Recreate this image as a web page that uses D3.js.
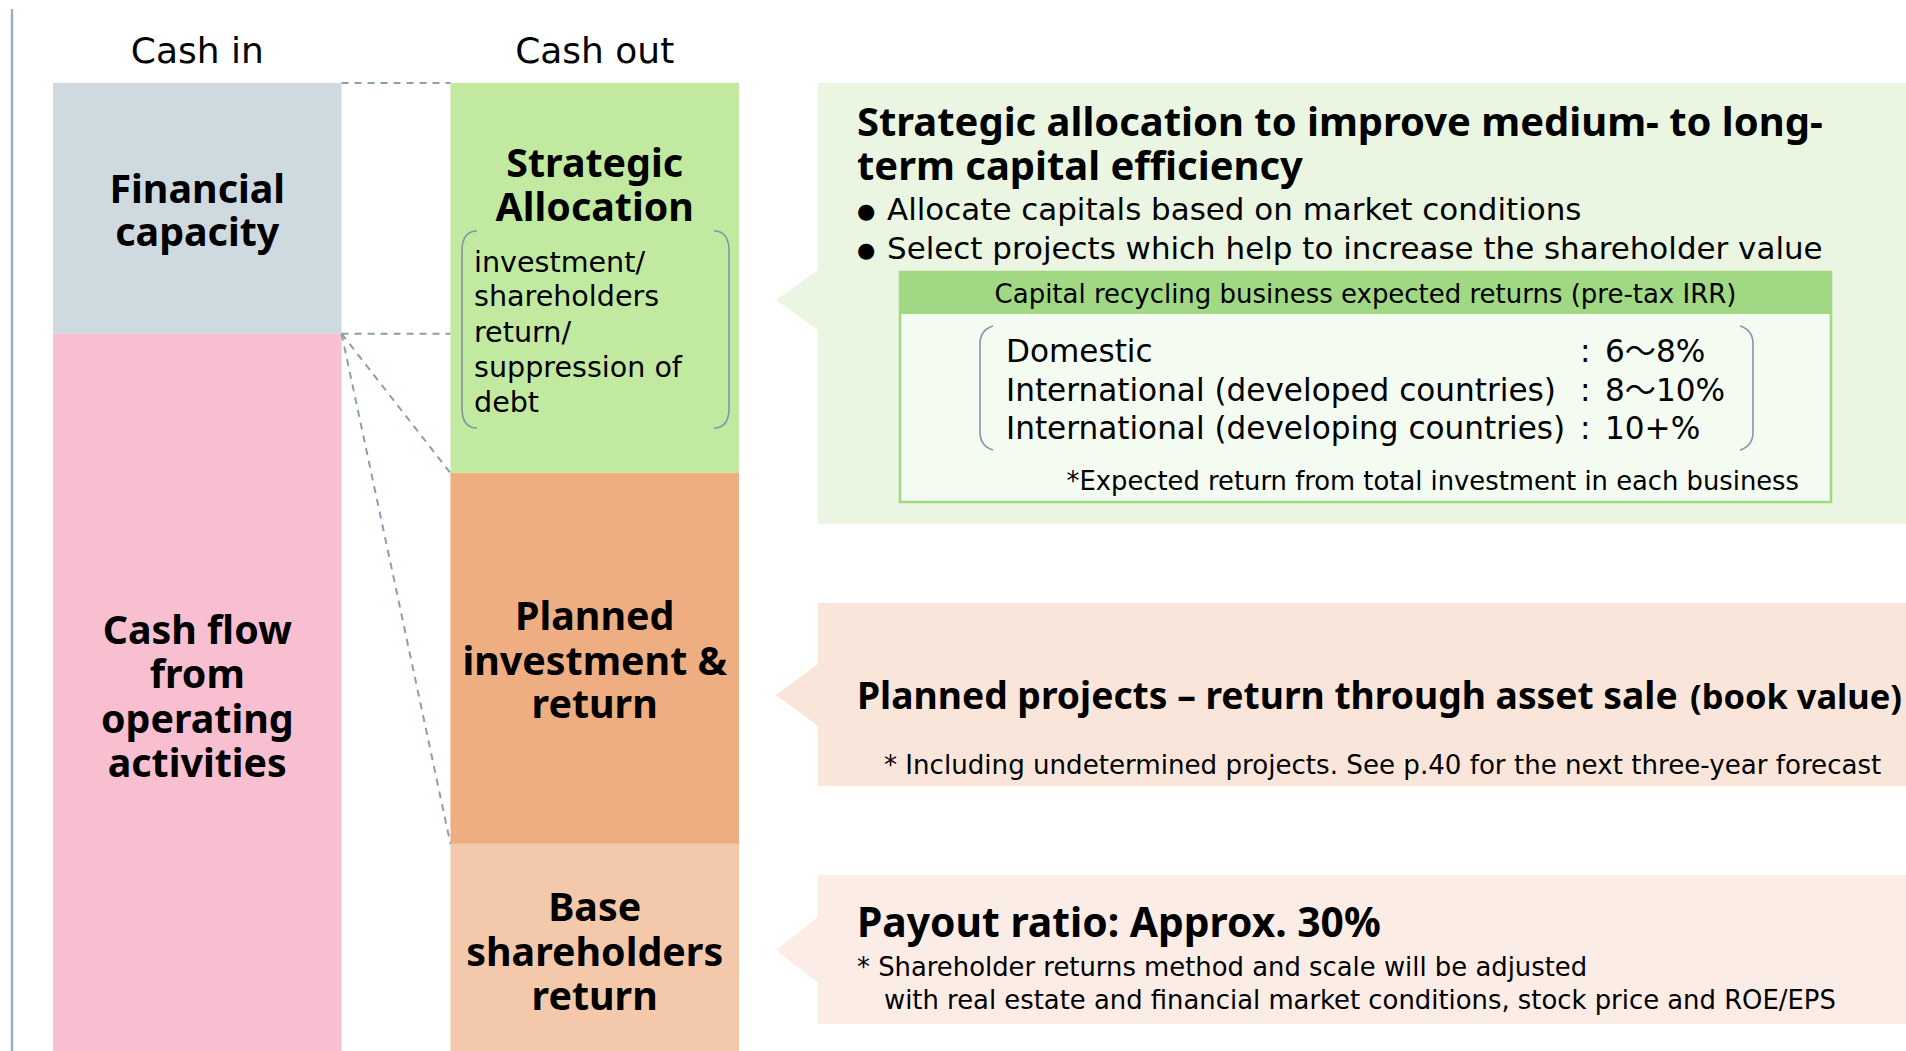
<!DOCTYPE html>
<html><head><meta charset="utf-8">
<script src="https://cdn.jsdelivr.net/npm/d3@7"></script>
<style>
body{margin:0;background:#fff;}
svg{display:block;}
text{font-family:"DejaVu Sans",Verdana,"Noto Sans CJK JP",sans-serif;fill:#000;}
text.b{font-family:"Noto Sans","DejaVu Sans",sans-serif;font-weight:bold;}
</style>
</head><body><svg id="c" width="1906" height="1051"></svg>
<script>
// ---------- data ----------
const columnHeaders = ["Cash in", "Cash out"];
const cashInCategories = ["Financial capacity", "Cash flow from operating activities"];
const cashInValues = [25.9, 74.1];
const cashInLabels = [["Financial", "capacity"], ["Cash flow", "from", "operating", "activities"]];
const cashOutCategories = ["Strategic Allocation", "Planned investment & return", "Base shareholders return"];
const cashOutValues = [40.3, 38.3, 21.4];
const cashOutLabels = [["Strategic", "Allocation"], ["Planned", "investment &", "return"], ["Base", "shareholders", "return"]];
const allocationUses = ["investment/", "shareholders", "return/", "suppression of", "debt"];
const strategicTitle = ["Strategic allocation to improve medium- to long-", "term capital efficiency"];
const strategicBullets = ["Allocate capitals based on market conditions", "Select projects which help to increase the shareholder value"];
const irrHeader = "Capital recycling business expected returns (pre-tax IRR)";
const irrRegions = ["Domestic", "International (developed countries)", "International (developing countries)"];
const irrReturns = ["6～8%", "8～10%", "10+%"];
const irrNote = "*Expected return from total investment in each business";
const plannedTitle = "Planned projects – return through asset sale";
const plannedTitleSuffix = "(book value)";
const plannedNote = "* Including undetermined projects. See p.40 for the next three-year forecast";
const payoutTitle = "Payout ratio: Approx. 30%";
const payoutNotes = ["* Shareholder returns method and scale will be adjusted", "with real estate and financial market conditions, stock price and ROE/EPS"];

// ---------- layout ----------
const svg = d3.select("#c");
const W = 1906, H = 1051;
const x = d3.scaleBand().domain(columnHeaders).range([53, 739]).paddingInner(0.274).paddingOuter(0);
const y = d3.scaleLinear().domain([0, 100]).range([83, 1051]);
const cashInColors = ["#cfdae0", "#f7bfcf"];
const cashOutColors = ["#c1eaa0", "#efad82", "#f4c8aa"];
const dashColor = "#8aa0b0";

function stack(vals) { let acc = 0; return vals.map(v => { const s = acc; acc += v; return [s, acc]; }); }
const inStack = stack(cashInValues), outStack = stack(cashOutValues);

function fit(sel, target) {
  const w = sel.node().getComputedTextLength();
  return parseFloat(sel.attr("font-size")) * target / w;
}

// left vertical rule
svg.append("line").attr("x1", 12).attr("x2", 12).attr("y1", 9).attr("y2", H)
  .attr("stroke", "#9cb0bf").attr("stroke-width", 2.5);

// column headers
const hdr = svg.selectAll("text.hdr").data(columnHeaders).join("text").attr("class", "hdr")
  .attr("x", d => x(d) + x.bandwidth() / 2).attr("y", 63).attr("text-anchor", "middle")
  .attr("font-size", 36).text(d => d);
const hs = fit(hdr.filter((d, i) => i === 0), 133);
hdr.attr("font-size", hs);

// blocks
svg.selectAll("rect.in").data(cashInValues).join("rect").attr("class", "in")
  .attr("x", x(columnHeaders[0])).attr("width", x.bandwidth())
  .attr("y", (d, i) => y(inStack[i][0])).attr("height", (d, i) => y(inStack[i][1]) - y(inStack[i][0]))
  .attr("fill", (d, i) => cashInColors[i]);
svg.selectAll("rect.out").data(cashOutValues).join("rect").attr("class", "out")
  .attr("x", x(columnHeaders[1])).attr("width", x.bandwidth())
  .attr("y", (d, i) => y(outStack[i][0])).attr("height", (d, i) => y(outStack[i][1]) - y(outStack[i][0]))
  .attr("fill", (d, i) => cashOutColors[i]);

// dashed connectors
const xr = x(columnHeaders[0]) + x.bandwidth(), xl = x(columnHeaders[1]);
const conns = [[y(0), y(0)], [y(inStack[0][1]), y(inStack[0][1])], [y(inStack[0][1]), y(outStack[0][1])], [y(inStack[0][1]), y(outStack[1][1])]];
svg.selectAll("line.conn").data(conns).join("line").attr("class", "conn")
  .attr("x1", xr).attr("y1", d => d[0]).attr("x2", xl).attr("y2", d => d[1])
  .attr("stroke", dashColor).attr("stroke-width", 2).attr("stroke-dasharray", "7,6");

// block labels
const inLabelY = [[203, 246], [644, 688, 733, 777]];
const outLabelY = [[177, 221], [630, 675, 718], [921, 966, 1010]];
const blockLabels = [];
cashInLabels.forEach((lines, i) => lines.forEach((l, j) => blockLabels.push({ t: l, cx: x(columnHeaders[0]) + x.bandwidth() / 2, y: inLabelY[i][j] })));
cashOutLabels.forEach((lines, i) => lines.forEach((l, j) => blockLabels.push({ t: l, cx: x(columnHeaders[1]) + x.bandwidth() / 2, y: outLabelY[i][j] })));
const bl = svg.selectAll("text.bl").data(blockLabels).join("text").attr("class", "bl b")
  .attr("x", d => d.cx).attr("y", d => d.y).attr("text-anchor", "middle")
  .attr("font-size", 36).text(d => d.t);
const bs = fit(bl.filter(d => d.t === "shareholders"), 257);
bl.attr("font-size", bs);

// allocation uses with bracket
const bx0 = 462, bx1 = 729, by0 = 231, by1 = 428;
svg.append("path").attr("d", `M${bx0 + 15},${by0} Q${bx0},${by0} ${bx0},${by0 + 20} L${bx0},${by1 - 20} Q${bx0},${by1} ${bx0 + 15},${by1}`)
  .attr("fill", "none").attr("stroke", "#8096aa").attr("stroke-width", 1.6);
svg.append("path").attr("d", `M${bx1 - 15},${by0} Q${bx1},${by0} ${bx1},${by0 + 20} L${bx1},${by1 - 20} Q${bx1},${by1} ${bx1 - 15},${by1}`)
  .attr("fill", "none").attr("stroke", "#8096aa").attr("stroke-width", 1.6);
const useY = [272, 306, 342, 377, 412];
const au = svg.selectAll("text.au").data(allocationUses).join("text").attr("class", "au")
  .attr("x", 474).attr("y", (d, i) => useY[i]).attr("font-size", 26).text(d => d);
au.attr("font-size", fit(au.filter(d => d === "suppression of"), 208));

// right panels
const panels = [
  { top: 83, bottom: 524, tip: 300, half: 30, fill: "#eaf6e1" },
  { top: 603, bottom: 786, tip: 695, half: 31, fill: "#f9e5d9" },
  { top: 875, bottom: 1024, tip: 950, half: 33, fill: "#fbede5" }
];
const px = 818;
svg.selectAll("path.panel").data(panels).join("path").attr("class", "panel")
  .attr("d", p => `M${px},${p.top} H${W} V${p.bottom} H${px} V${p.tip + p.half} L${px - 42},${p.tip} L${px},${p.tip - p.half} Z`)
  .attr("fill", p => p.fill);

// strategic panel texts
const tt = svg.selectAll("text.tt").data(strategicTitle).join("text").attr("class", "tt b")
  .attr("x", 857).attr("y", (d, i) => [136, 180][i]).attr("font-size", 36).text(d => d);
tt.attr("font-size", fit(tt.filter((d, i) => i === 0), 966));

const bulY = [220, 259];
svg.selectAll("text.bdot").data(strategicBullets).join("text").attr("class", "bdot")
  .attr("x", 857).attr("y", (d, i) => bulY[i] - 2).attr("font-size", 21).text("●");
const bt = svg.selectAll("text.bt").data(strategicBullets).join("text").attr("class", "bt")
  .attr("x", 887).attr("y", (d, i) => bulY[i]).attr("font-size", 30).text(d => d);
bt.attr("font-size", fit(bt.filter((d, i) => i === 1), 936));

// IRR table
const tx0 = 900, tx1 = 1831, ty0 = 272, tyh = 314, ty1 = 502;
svg.append("rect").attr("x", tx0).attr("y", ty0).attr("width", tx1 - tx0).attr("height", ty1 - ty0)
  .attr("fill", "#f4fbf0").attr("stroke", "#a0d884").attr("stroke-width", 2.5);
svg.append("rect").attr("x", tx0).attr("y", ty0).attr("width", tx1 - tx0).attr("height", tyh - ty0).attr("fill", "#a0d884");
const ih = svg.append("text").attr("x", (tx0 + tx1) / 2).attr("y", 303).attr("text-anchor", "middle")
  .attr("font-size", 24).text(irrHeader);
ih.attr("font-size", fit(ih, 742));

const lbx0 = 980, lbx1 = 1753, lby0 = 326, lby1 = 450;
svg.append("path").attr("d", `M${lbx0 + 13},${lby0} Q${lbx0},${lby0 + 4} ${lbx0},${lby0 + 18} L${lbx0},${lby1 - 18} Q${lbx0},${lby1 - 4} ${lbx0 + 13},${lby1}`)
  .attr("fill", "none").attr("stroke", "#8096aa").attr("stroke-width", 1.6);
svg.append("path").attr("d", `M${lbx1 - 13},${lby0} Q${lbx1},${lby0 + 4} ${lbx1},${lby0 + 18} L${lbx1},${lby1 - 18} Q${lbx1},${lby1 - 4} ${lbx1 - 13},${lby1}`)
  .attr("fill", "none").attr("stroke", "#8096aa").attr("stroke-width", 1.6);
const rowY = [362, 401, 439];
const ir = svg.selectAll("text.ir").data(irrRegions).join("text").attr("class", "ir")
  .attr("x", 1006).attr("y", (d, i) => rowY[i]).attr("font-size", 30).text(d => d);
const rs = fit(ir.filter((d, i) => i === 1), 550);
ir.attr("font-size", rs);
svg.selectAll("text.ic").data(irrReturns).join("text").attr("class", "ic")
  .attr("x", 1580).attr("y", (d, i) => rowY[i]).attr("font-size", rs).text(":");
svg.selectAll("text.iv").data(irrReturns).join("text").attr("class", "iv")
  .attr("x", 1605).attr("y", (d, i) => rowY[i]).attr("font-size", rs).text(d => d);
const inote = svg.append("text").attr("x", 1799).attr("y", 490).attr("text-anchor", "end").attr("font-size", 24).text(irrNote);
inote.attr("font-size", fit(inote, 733));

// planned panel
const pt = svg.append("text").attr("class", "b").attr("x", 857).attr("y", 709).attr("font-size", 34).text(plannedTitle);
pt.attr("font-size", fit(pt, 821));
const ps = svg.append("text").attr("class", "b").attr("x", 1690).attr("y", 709).attr("font-size", 28).text(plannedTitleSuffix);
ps.attr("font-size", fit(ps, 212));
const pn = svg.append("text").attr("x", 884).attr("y", 774).attr("font-size", 24).text(plannedNote);
pn.attr("font-size", fit(pn, 998));

// payout panel
const po = svg.append("text").attr("class", "b").attr("x", 857).attr("y", 937).attr("font-size", 36).text(payoutTitle);
po.attr("font-size", fit(po, 524));
const pnt = svg.selectAll("text.pnt").data(payoutNotes).join("text").attr("class", "pnt")
  .attr("x", (d, i) => i === 0 ? 857 : 884).attr("y", (d, i) => [976, 1009][i]).attr("font-size", 24).text(d => d);
pnt.attr("font-size", fit(pnt.filter((d, i) => i === 1), 952));
</script>
</body></html>
